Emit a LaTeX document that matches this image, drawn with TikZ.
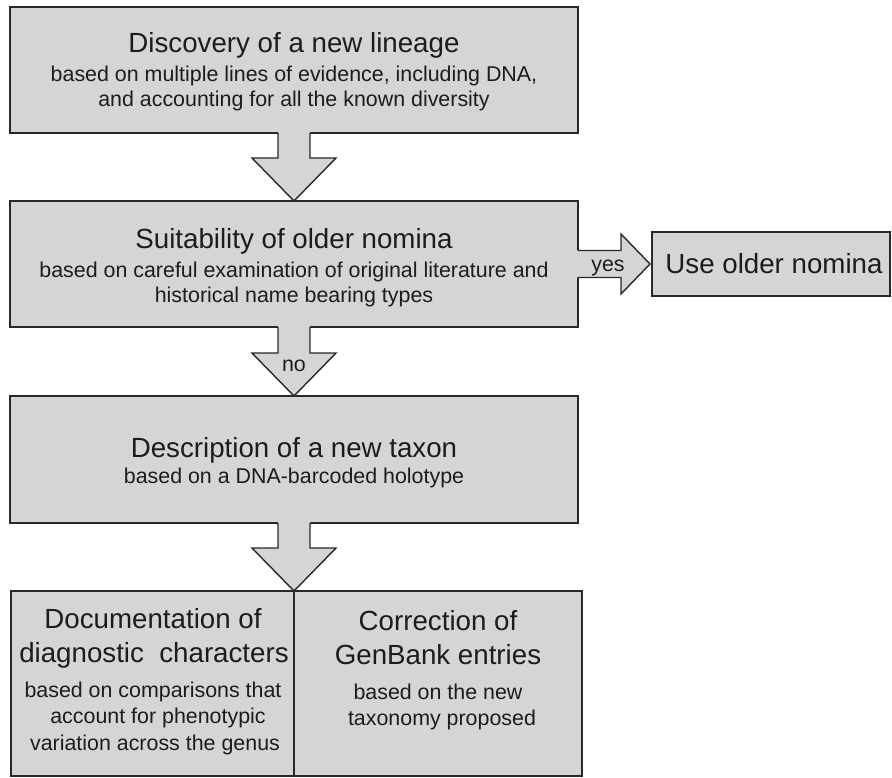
\documentclass[tikz,border=0pt]{standalone}
\usepackage{fontspec}
\setmainfont{Liberation Sans}
\usetikzlibrary{calc}
\definecolor{boxgray}{RGB}{213,213,213}
\definecolor{edgegray}{RGB}{40,40,40}
\definecolor{inkgray}{RGB}{28,28,28}
\tikzset{
  stage/.style={draw=edgegray, fill=boxgray, line width=1.4pt, inner sep=0pt, outer sep=0pt, rectangle},
  ttl/.style={anchor=base, inner sep=0pt, text=inkgray, font=\fontsize{27.7}{33}\selectfont},
  sub/.style={anchor=base, inner sep=0pt, text=inkgray, font=\fontsize{21.4}{26}\selectfont},
  arrfill/.style={fill=boxgray},
  arrline/.style={draw=edgegray, line width=1.4pt, line join=miter},
}
% vertical block arrow from anchor #1 (bottom of a box) to anchor #2 (tip)
\newcommand\vblockarrow[2]{%
  \fill[arrfill] ($(#1)+(-16,-1.2)$) -- ($(#2)+(-16,-43)$) -- ($(#2)+(-42,-43)$) -- (#2)
     -- ($(#2)+(42,-43)$) -- ($(#2)+(16,-43)$) -- ($(#1)+(16,-1.2)$) -- cycle;
  \draw[arrline] ($(#1)+(-16,0)$) -- ($(#2)+(-16,-43)$) -- ($(#2)+(-42,-43)$) -- (#2)
     -- ($(#2)+(42,-43)$) -- ($(#2)+(16,-43)$) -- ($(#1)+(16,0)$);
}
\begin{document}
\begin{tikzpicture}[x=1pt,y=-1pt]
\useasboundingbox (0,0) rectangle (892,778);

% boxes
\node[stage, minimum width=568pt, minimum height=126pt] (b1) at (294,70) {};
\node[stage, minimum width=568pt, minimum height=126pt] (b2) at (294,264) {};
\node[stage, minimum width=568pt, minimum height=127pt] (b3) at (294,459.5) {};
\node[stage, minimum width=283pt, minimum height=185pt] (b4) at (152.5,683.5) {};
\node[stage, minimum width=288pt, minimum height=185pt] (b5) at (438,683.5) {};
\node[stage, minimum width=238pt, minimum height=64pt] (use) at (771,264) {};
\coordinate (tip3) at (b4.north east);
\coordinate (tipH) at ($(use.west)+(-2,0)$);

% vertical arrows
\vblockarrow{b1.south}{b2.north}
\vblockarrow{b2.south}{b3.north}
\vblockarrow{b3.south}{tip3}

% horizontal arrow
\fill[arrfill] ($(b2.east)+(-1.2,-13.5)$) -- ($(tipH)+(-29,-13.5)$) -- ($(tipH)+(-29,-30)$) -- (tipH)
   -- ($(tipH)+(-29,30)$) -- ($(tipH)+(-29,13.5)$) -- ($(b2.east)+(-1.2,13.5)$) -- cycle;
\draw[arrline] ($(b2.east)+(0,-13.5)$) -- ($(tipH)+(-29,-13.5)$) -- ($(tipH)+(-29,-30)$) -- (tipH)
   -- ($(tipH)+(-29,30)$) -- ($(tipH)+(-29,13.5)$) -- ($(b2.east)+(0,13.5)$);

% texts
\node[ttl] (t1a) at (294,53) {Discovery of a new lineage};
\node[sub] (t1b) at (294,82) {based on multiple lines of evidence, including DNA,};
\node[sub] (t1c) at (294,107) {and accounting for all the known diversity};

\node[ttl] (t2a) at (294,249) {Suitability of older nomina};
\node[sub] (t2b) at (294,277) {based on careful examination of original literature and};
\node[sub] (t2c) at (294,302) {historical name bearing types};

\node[ttl] (t3a) at (294,457) {Description of a new taxon};
\node[sub] (t3b) at (294,483) {based on a DNA-barcoded holotype};

\node[ttl] (t4a) at (153,628) {Documentation of};
\node[ttl] (t4b) at (154,662) {diagnostic\ \ characters};
\node[sub] (t4c) at (153,697) {based on comparisons that};
\node[sub] (t4d) at (158,723) {account for phenotypic};
\node[sub] (t4e) at (155,750) {variation across the genus};

\node[ttl] (t5a) at (438,630) {Correction of};
\node[ttl] (t5b) at (438,664) {GenBank entries};
\node[sub] (t5c) at (438,699) {based on the new};
\node[sub] (t5d) at (442,725) {taxonomy proposed};

\node[ttl] (t6) at (774,273) {Use older nomina};
\node[sub] (yes) at (608,272) {yes};
\node[sub] (no) at (294,371) {no};
\end{tikzpicture}
\end{document}
